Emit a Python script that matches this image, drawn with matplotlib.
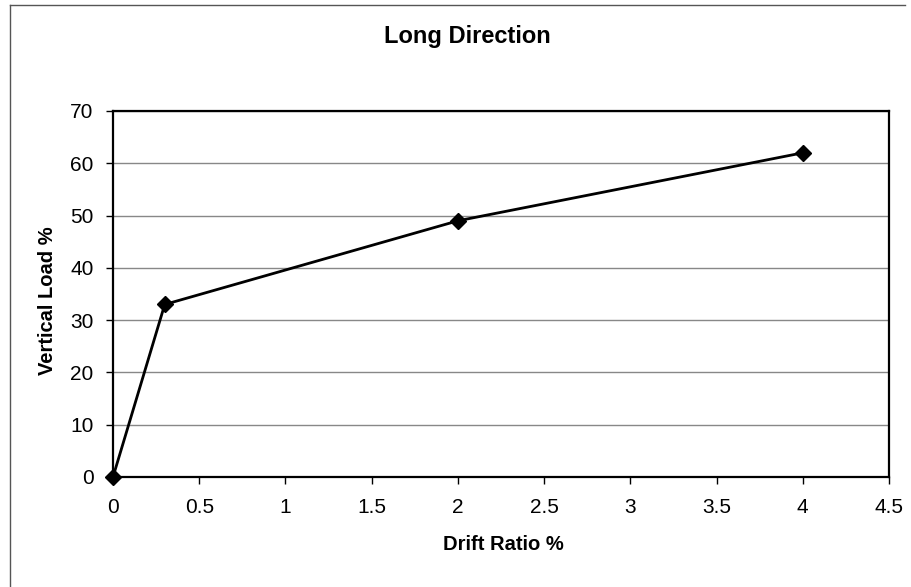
import numpy as np
import matplotlib.pyplot as plt
from matplotlib.lines import Line2D

plt.rcParams['font.family'] = ['Liberation Sans', 'DejaVu Sans']

drift = [0, 0.3, 2, 4]
load = [0, 33, 49, 62]
x_ticks = [0, 0.5, 1, 1.5, 2, 2.5, 3, 3.5, 4, 4.5]
y_ticks = [0, 10, 20, 30, 40, 50, 60, 70]

W, H = 911, 587
fig = plt.figure(figsize=(W / 100, H / 100), dpi=100)
# plot area in pixels: x 113..889, y 111..477
ax = fig.add_axes([113 / W, 1 - 477 / H, 776 / W, 366 / H])

ax.plot(drift, load, color='black', lw=2, marker='D', ms=8, mfc='black', mec='black', clip_on=False, zorder=3)

ax.set_xlim(0, 4.5)
ax.set_ylim(0, 70)
ax.set_xticks(x_ticks)
ax.set_xticklabels(['0', '0.5', '1', '1.5', '2', '2.5', '3', '3.5', '4', '4.5'])
ax.set_yticks(y_ticks)
ax.yaxis.grid(True, color='#888888', lw=1)
ax.set_axisbelow(True)
for s in ax.spines.values():
    s.set_linewidth(1.6)
    s.set_color('black')
ax.tick_params(direction='out', length=5, width=1, labelsize=15)
ax.tick_params(axis='x', pad=10)
ax.tick_params(axis='y', pad=9)

fig.text(467 / W, 1 - 37 / H, 'Long Direction', fontsize=17, fontweight='bold', ha='center', va='center')
fig.text(503 / W, 1 - 545 / H, 'Drift Ratio %', fontsize=14.5, fontweight='bold', ha='center', va='center')
fig.text(48 / W, 1 - 301 / H, 'Vertical Load %', fontsize=14.5, fontweight='bold', ha='center', va='center',
         rotation=90)

# chart border (only left and top edges visible in the scan)
fig.lines.append(Line2D([10 / W, 10 / W], [0, 1 - 5 / H], transform=fig.transFigure, color='#555555', lw=1))
fig.lines.append(Line2D([10 / W, 905 / W], [1 - 5 / H, 1 - 5 / H], transform=fig.transFigure, color='#555555', lw=1))

fig.savefig('out.png', dpi=100)
